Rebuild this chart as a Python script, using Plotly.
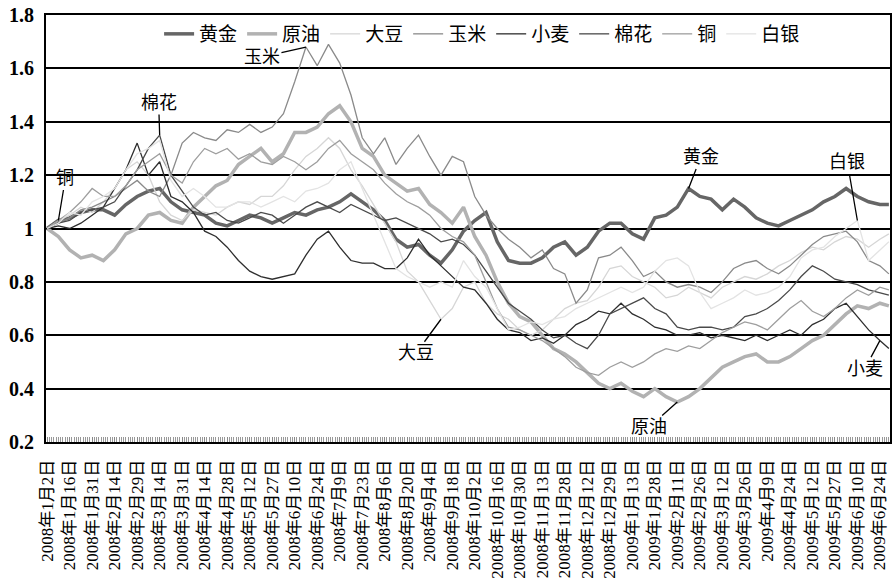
import plotly.graph_objects as go

# trading-day index of each sampled value (every 5th trading day, 2008-01-02 = 0)
sample_day = list(range(0, 375, 5)) + [374]

tick_day = list(range(0, 371, 10))
tick_labels = [
    "2008年1月2日", "2008年1月16日", "2008年1月31日", "2008年2月14日", "2008年2月29日",
    "2008年3月14日", "2008年3月31日", "2008年4月14日", "2008年4月28日", "2008年5月12日",
    "2008年5月27日", "2008年6月10日", "2008年6月24日", "2008年7月9日", "2008年7月23日",
    "2008年8月6日", "2008年8月20日", "2008年9月4日", "2008年9月18日", "2008年10月2日",
    "2008年10月16日", "2008年10月30日", "2008年11月13日", "2008年11月28日", "2008年12月12日",
    "2008年12月29日", "2009年1月13日", "2009年1月28日", "2009年2月11日", "2009年2月26日",
    "2009年3月12日", "2009年3月26日", "2009年4月9日", "2009年4月24日", "2009年5月12日",
    "2009年5月27日", "2009年6月10日", "2009年6月24日",
]

gold = [1.00, 1.03, 1.04, 1.06, 1.07, 1.07, 1.05, 1.09, 1.12, 1.14,
        1.15, 1.10, 1.07, 1.06, 1.05, 1.02, 1.01, 1.03, 1.05, 1.04,
        1.02, 1.04, 1.06, 1.05, 1.07, 1.08, 1.10, 1.13, 1.10, 1.07,
        1.03, 0.96, 0.93, 0.94, 0.90, 0.87, 0.92, 0.99, 1.03, 1.06,
        0.95, 0.88, 0.87, 0.87, 0.89, 0.93, 0.95, 0.90, 0.93, 0.99,
        1.02, 1.02, 0.98, 0.96, 1.04, 1.05, 1.08, 1.15, 1.12, 1.11,
        1.07, 1.11, 1.08, 1.04, 1.02, 1.01, 1.03, 1.05, 1.07, 1.10,
        1.12, 1.15, 1.12, 1.10, 1.09,
        1.09]

oil = [1.00, 0.97, 0.92, 0.89, 0.90, 0.88, 0.92, 0.98, 1.00, 1.05,
       1.06, 1.03, 1.02, 1.08, 1.12, 1.16, 1.18, 1.24, 1.27, 1.30,
       1.25, 1.28, 1.36, 1.36, 1.38, 1.43, 1.46, 1.40, 1.30, 1.27,
       1.20, 1.17, 1.14, 1.15, 1.09, 1.06, 1.02, 1.08, 0.97, 0.90,
       0.80, 0.72, 0.67, 0.65, 0.60, 0.55, 0.53, 0.50, 0.46, 0.42,
       0.40, 0.42, 0.39, 0.37, 0.40, 0.37, 0.35, 0.37, 0.40, 0.44,
       0.48, 0.50, 0.52, 0.53, 0.50, 0.50, 0.52, 0.55, 0.58, 0.60,
       0.64, 0.68, 0.71, 0.70, 0.72,
       0.71]

soybean = [1.00, 1.03, 1.05, 1.08, 1.06, 1.10, 1.15, 1.22, 1.25, 1.20,
           1.10, 1.05, 1.03, 1.07, 1.06, 1.05, 1.08, 1.10, 1.09, 1.12,
           1.12, 1.16, 1.22, 1.27, 1.30, 1.34, 1.30, 1.22, 1.16, 1.09,
           1.02, 0.95, 0.84, 0.80, 0.73, 0.66, 0.70, 0.78, 0.80, 0.72,
           0.68, 0.66, 0.62, 0.60, 0.62, 0.66, 0.70, 0.72, 0.73, 0.78,
           0.85, 0.86, 0.82, 0.80, 0.78, 0.74, 0.75, 0.78, 0.76, 0.74,
           0.78, 0.80, 0.82, 0.81, 0.83, 0.86, 0.88, 0.91, 0.93, 0.92,
           0.95, 0.97, 0.96, 0.93, 0.96,
           0.98]

corn = [1.00, 1.02, 1.04, 1.07, 1.08, 1.10, 1.12, 1.15, 1.18, 1.14,
        1.12, 1.20, 1.32, 1.36, 1.34, 1.33, 1.37, 1.36, 1.39, 1.36,
        1.38, 1.43, 1.55, 1.68, 1.61, 1.69, 1.62, 1.50, 1.34, 1.28,
        1.34, 1.24, 1.30, 1.35, 1.27, 1.20, 1.27, 1.25, 1.12, 1.05,
        1.00, 0.96, 0.93, 0.89, 0.92, 0.85, 0.83, 0.72, 0.77, 0.89,
        0.90, 0.93, 0.88, 0.82, 0.84, 0.80, 0.78, 0.79, 0.78, 0.76,
        0.80, 0.85, 0.87, 0.88, 0.85, 0.83, 0.86, 0.90, 0.94, 0.97,
        0.98, 0.99, 0.95, 0.88, 0.86,
        0.83]

wheat = [1.00, 1.01, 1.00, 1.02, 1.05, 1.08, 1.15, 1.22, 1.32, 1.20,
         1.25, 1.12, 1.10, 1.06, 0.99, 0.97, 0.93, 0.88, 0.84, 0.82,
         0.81, 0.82, 0.83, 0.90, 0.96, 0.99, 0.93, 0.88, 0.87, 0.87,
         0.85, 0.85, 0.89, 0.96, 0.90, 0.86, 0.82, 0.78, 0.77, 0.72,
         0.66, 0.62, 0.61, 0.58, 0.59, 0.57, 0.60, 0.64, 0.66, 0.69,
         0.68, 0.72, 0.68, 0.66, 0.63, 0.62, 0.60, 0.60, 0.61, 0.59,
         0.60, 0.59, 0.58, 0.60, 0.58, 0.60, 0.62, 0.60, 0.64, 0.66,
         0.70, 0.72, 0.67, 0.62, 0.58,
         0.55]

cotton = [1.00, 1.02, 1.03, 1.06, 1.07, 1.08, 1.10, 1.16, 1.22, 1.30,
          1.35, 1.20, 1.14, 1.08, 1.05, 1.06, 1.03, 1.02, 1.04, 1.06,
          1.05, 1.02, 1.05, 1.08, 1.10, 1.08, 1.06, 1.09, 1.07, 1.05,
          1.03, 1.04, 1.02, 1.00, 0.98, 0.95, 0.96, 0.94, 0.90, 0.84,
          0.78, 0.72, 0.69, 0.66, 0.62, 0.59, 0.60, 0.57, 0.55, 0.60,
          0.68, 0.70, 0.72, 0.74, 0.70, 0.68, 0.63, 0.62, 0.63, 0.63,
          0.62, 0.63, 0.67, 0.68, 0.70, 0.73, 0.77, 0.82, 0.86, 0.84,
          0.81, 0.80, 0.79, 0.77, 0.76,
          0.75]

copper = [1.00, 1.03, 1.06, 1.10, 1.15, 1.12, 1.12, 1.16, 1.22, 1.25,
          1.28, 1.20, 1.17, 1.25, 1.30, 1.28, 1.30, 1.26, 1.28, 1.25,
          1.24, 1.27, 1.25, 1.22, 1.25, 1.30, 1.33, 1.28, 1.25, 1.22,
          1.17, 1.13, 1.10, 1.08, 1.05, 1.00, 0.97, 0.95, 0.90, 0.80,
          0.70, 0.63, 0.62, 0.60, 0.58, 0.55, 0.52, 0.48, 0.46, 0.45,
          0.48, 0.50, 0.48, 0.50, 0.53, 0.55, 0.54, 0.56, 0.55, 0.58,
          0.61, 0.63, 0.65, 0.64, 0.62, 0.66, 0.70, 0.73, 0.69, 0.67,
          0.70, 0.74, 0.77, 0.75, 0.78,
          0.77]

silver = [1.00, 1.02, 1.06, 1.05, 1.10, 1.12, 1.15, 1.22, 1.28, 1.30,
          1.33, 1.18, 1.12, 1.15, 1.12, 1.08, 1.08, 1.10, 1.10, 1.08,
          1.10, 1.12, 1.10, 1.14, 1.15, 1.17, 1.22, 1.25, 1.15, 1.05,
          0.95, 0.85, 0.82, 0.80, 0.78, 0.80, 0.78, 0.88, 0.82, 0.78,
          0.70, 0.62, 0.63, 0.65, 0.64, 0.66, 0.67, 0.70, 0.72, 0.74,
          0.76, 0.78, 0.76, 0.78, 0.84, 0.88, 0.89, 0.86, 0.76, 0.70,
          0.72, 0.74, 0.77, 0.75, 0.76, 0.78, 0.82, 0.89, 0.92, 0.93,
          0.97, 1.00, 1.03, 0.88, 0.92,
          0.95]

series = [
    ("黄金", gold, "#666666", 3.5),
    ("原油", oil, "#b2b2b2", 3.5),
    ("大豆", soybean, "#d6d6d6", 1.3),
    ("玉米", corn, "#8a8a8a", 1.3),
    ("小麦", wheat, "#2e2e2e", 1.3),
    ("棉花", cotton, "#4a4a4a", 1.3),
    ("铜", copper, "#9e9e9e", 1.3),
    ("白银", silver, "#e3e3e3", 1.3),
]

fig = go.Figure()
for name, vals, color, w in series:
    fig.add_trace(go.Scatter(x=sample_day, y=vals, name=name, mode="lines",
                             line=dict(color=color, width=w)))

cjk = "Liberation Serif, Noto Sans CJK SC"

def pos(arr, day):
    return arr[sample_day.index(day)]

labels = [
    ("玉米", 115, corn, -44, 10),
    ("棉花", 50, cotton, -1, -32),
    ("铜", 5, copper, 7, -42),
    ("大豆", 175, soybean, -25, 34),
    ("原油", 280, oil, -28, 25),
    ("小麦", 370, wheat, -15, 28),
    ("黄金", 285, gold, 12, -31),
    ("白银", 360, silver, -10, -58),
]
for text, day, arr, ax, ay in labels:
    fig.add_annotation(x=day, y=pos(arr, day), text=text, showarrow=True,
                       arrowhead=0, arrowwidth=1.3, arrowcolor="black",
                       ax=ax, ay=ay, font=dict(family=cjk, size=18, color="black"))

fig.update_layout(
    width=892, height=585,
    margin=dict(l=46, r=2, t=15, b=143),
    paper_bgcolor="white", plot_bgcolor="white",
    showlegend=True,
    legend=dict(orientation="h", x=0.134, y=1.0, xanchor="left", yanchor="top",
                bgcolor="rgba(0,0,0,0)", font=dict(family=cjk, size=19, color="black"),
                itemwidth=30, tracegroupgap=0),
    font=dict(family=cjk, color="black"),
)
fig.update_xaxes(
    range=[-0.5, 374.5], tickmode="array", tickvals=tick_day, ticktext=tick_labels,
    tickangle=-90, tickfont=dict(family=cjk, size=17, color="black"),
    ticks="inside", ticklen=5, tickcolor="#888888", ticklabelstandoff=9,
    minor=dict(ticks="inside", dtick=1, tick0=0, ticklen=5, tickcolor="#999999", tickwidth=1),
    showline=True, linecolor="black", linewidth=2, mirror=True,
    showgrid=False, zeroline=False, automargin=False,
)
fig.update_yaxes(
    range=[0.2, 1.8], dtick=0.2, tick0=0.2,
    tickfont=dict(family="Liberation Serif", size=20, color="black", weight="bold"),
    showgrid=True, gridcolor="black", gridwidth=1.5, ticklabelstandoff=6,
    showline=True, linecolor="black", linewidth=2, mirror=True,
    zeroline=False, ticks="", automargin=False,
)

fig.write_html("out.html", config={"displayModeBar": False},
               post_script="document.body.style.margin='0';document.body.style.overflow='hidden';")
